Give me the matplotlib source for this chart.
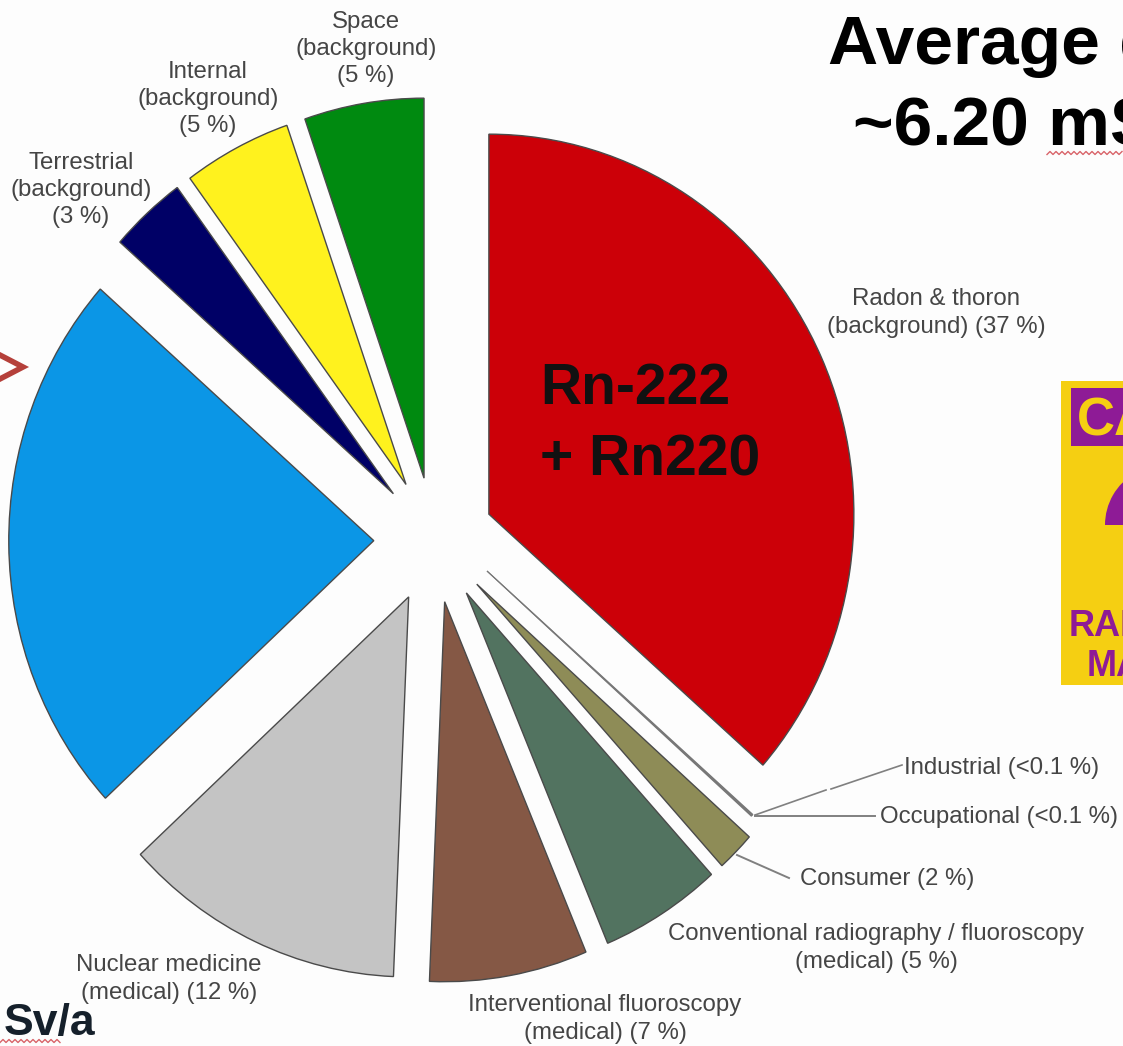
import numpy as np
import matplotlib
matplotlib.use("Agg")
import matplotlib.pyplot as plt
from matplotlib.patches import Rectangle, Wedge

plt.rcParams['font.family'] = ['Liberation Sans', 'DejaVu Sans']

# ---- data (clockwise from 12 o'clock), slice sizes ----
categories = ["Radon & thoron", "Occupational", "Industrial", "Consumer",
              "Conventional radiography / fluoroscopy", "Interventional fluoroscopy",
              "Nuclear medicine", "Computed tomography", "Terrestrial", "Internal", "Space"]
values = [36.53, 0.05, 0.05, 1.7, 5.4, 7.0, 12.5, 23.4, 3.4, 4.8, 5.3]
colors = ["#CC0008", "#B8B8B8", "#B8B8B8", "#8E8C57", "#527360", "#855845",
          "#C4C4C4", "#0B96E6", "#000066", "#FFF21E", "#008A10"]
explode = [0.165] * len(values)

label_texts = ["Space\n(background)\n(5 %)", "Internal\n(background)\n(5 %)",
               "Terrestrial\n(background)\n(3 %)", "Radon & thoron\n(background) (37 %)",
               "Conventional radiography / fluoroscopy\n(medical) (5 %)",
               "Interventional fluoroscopy\n(medical) (7 %)",
               "Nuclear medicine\n(medical) (12 %)"]
label_xy = [(366, 49), (208, 99), (81, 190), (936, 313), (876, 948), (605, 1019), (169, 979)]
side_texts = ["Industrial (<0.1 %)", "Occupational (<0.1 %)", "Consumer (2 %)"]
side_xy = [(904, 768), (880, 817), (800, 879)]

W, H = 1123, 1046
CX, CY, RX, RY = 434, 540, 365, 380

fig = plt.figure(figsize=(W / 100, H / 100), dpi=100, facecolor="#FDFDFD")

# pie axes: slightly anisotropic like the stretched source image
ax = fig.add_axes([0, 0, 1, 1])
wedges, _ = ax.pie(values, colors=colors, explode=explode, startangle=90,
                   counterclock=False, radius=1.0,
                   wedgeprops=dict(edgecolor="#4A4A4A", linewidth=1.0))
ax.set_aspect("auto")
ax.set_xlim((0 - CX) / RX, (W - CX) / RX)
ax.set_ylim((CY - H) / RY, CY / RY)
ax.axis("off")

# the two hair-thin slices sit off the common radial line
for i in (1, 2):
    wedges[i].set_center(((487 - CX) / RX, (CY - 571) / RY))
    wedges[i].set_radius(0.97)
    wedges[i].set_edgecolor("#777777")
    wedges[i].set_linewidth(0.8)

# overlay in pixel coordinates
ov = fig.add_axes([0, 0, 1, 1], facecolor="none")
ov.set_xlim(0, W)
ov.set_ylim(H, 0)
ov.axis("off")

txt = "#454545"
for s, (x, y) in zip(label_texts, label_xy):
    ov.text(x, y, s, ha="center", va="center", fontsize=17.3, color=txt, linespacing=1.32)
for s, (x, y) in zip(side_texts, side_xy):
    ov.text(x, y, s, ha="left", va="center", fontsize=17.3, color=txt)

# leader lines
lc = "#808080"
ov.plot([755, 826], [815, 790], color=lc, lw=1.2)
ov.plot([831, 902], [789, 765], color=lc, lw=1.2)
ov.plot([755, 875], [816, 816], color=lc, lw=1.4)
ov.plot([737, 789], [855, 878], color=lc, lw=1.4)

# text on the radon slice
ov.text(540, 389, "Rn-222", ha="left", va="center", fontsize=41, fontweight="bold", color="#111111")
ov.text(540, 461, "+ Rn220", ha="left", va="center", fontsize=41, fontweight="bold", color="#111111")

# title, running off the right edge as in the source slide
ov.text(828, 46, "Average d", ha="left", va="center", fontsize=50, fontweight="bold", color="black", clip_on=True)
ov.text(853, 127, "~6.20 mSv/a", ha="left", va="center", fontsize=50, fontweight="bold", color="black", clip_on=True)
ov.text(95, 1024, "Sv/a", ha="right", va="center", fontsize=32, fontweight="bold", color="#15202B", clip_on=True)

# spell-check squiggles
def squiggle(x0, x1, y):
    xs = np.arange(x0, x1 + 1, 3.0)
    ys = y + 1.5 * (-1.0) ** np.arange(len(xs))
    ov.plot(xs, ys, color="#D9646A", lw=1.0)
squiggle(1047, 1123, 153)
squiggle(0, 62, 1041)

# arrow tip at the left edge
ov.plot([-4, 23, -4], [353, 367, 381], color="#B5403A", lw=4, solid_joinstyle="miter")

# caution sign, cropped by the right edge
yellow, purple = "#F5CF12", "#8E1B96"
ov.add_patch(Rectangle((1061, 381), 70, 304, facecolor=yellow, edgecolor="none"))
ov.add_patch(Rectangle((1071, 388), 60, 58, facecolor=purple, edgecolor="none"))
ov.text(1077, 421, "CA", ha="left", va="center", fontsize=38, fontweight="bold", color=yellow, clip_on=True)
ov.add_patch(Wedge((1165, 525), 60, 180, 240, facecolor=purple, edgecolor="none"))
ov.text(1069, 627, "RAD", ha="left", va="center", fontsize=26, fontweight="bold", color=purple, clip_on=True)
ov.text(1087, 666, "MA", ha="left", va="center", fontsize=26, fontweight="bold", color=purple, clip_on=True)

fig.savefig("out.png", dpi=100, facecolor=fig.get_facecolor())
